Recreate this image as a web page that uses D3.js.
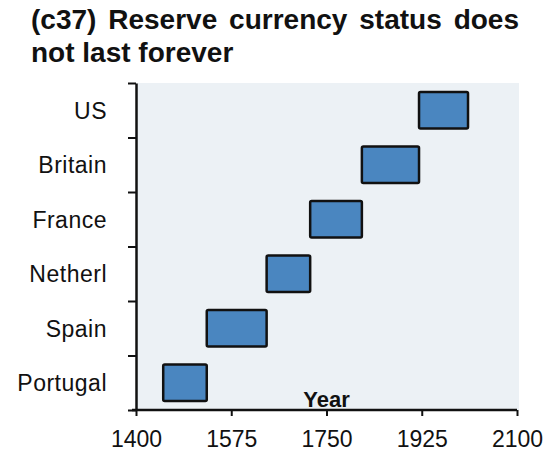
<!DOCTYPE html>
<html>
<head>
<meta charset="utf-8">
<script src="https://cdn.jsdelivr.net/npm/d3@7"></script>
<style>
  body { margin: 0; background: #fff; }
  text { font-family: "Liberation Sans", Arial, sans-serif; fill: #111; }
</style>
</head>
<body>
<div id="chart"></div>
<script>
// reserve currency periods (bottom to top)
var countries = ['Portugal', 'Spain', 'Netherl', 'France', 'Britain', 'US'];
var startYears = [1450, 1530, 1640, 1720, 1815, 1920];
var endYears = [1530, 1640, 1720, 1815, 1920, 2010];
var yearTicks = [1400, 1575, 1750, 1925, 2100];

var W = 548, H = 453;
var mLeft = 136, mRight = 517, mTop = 83, mBottom = 410;

var svg = d3.select('#chart').append('svg')
    .attr('width', W)
    .attr('height', H);

// plot background
svg.append('rect')
    .attr('x', mLeft)
    .attr('y', mTop)
    .attr('width', 519 - mLeft)
    .attr('height', mBottom - mTop)
    .attr('fill', '#ecf1f5');

var x = d3.scaleLinear().domain([1400, 2100]).range([mLeft, mRight]);
var y = d3.scaleLinear().domain([0, countries.length]).range([mBottom, mTop]);

/* --------- BARS ---------*/
var bars = countries.map(function (c, i) {
    return { name: c, idx: i, start: startYears[i], end: endYears[i] };
});

svg.selectAll('rect.bar')
    .data(bars)
    .enter()
    .append('rect')
    .attr('class', 'bar')
    .attr('x', function (d) { return x(d.start); })
    .attr('width', function (d) { return x(d.end) - x(d.start); })
    .attr('y', function (d) { return y(d.idx + 0.835); })
    .attr('height', function (d) { return y(d.idx + 0.165) - y(d.idx + 0.835); })
    .attr('rx', 1.5)
    .attr('fill', '#4a86c0')
    .attr('stroke', '#111')
    .attr('stroke-width', 2.5);

/* --------- AXES ---------*/
var yAxis = d3.axisLeft(y)
    .tickValues(d3.range(0, countries.length + 1))
    .tickFormat('')
    .tickSize(8)
    .tickSizeOuter(0);

var gy = svg.append('g')
    .attr('transform', 'translate(' + mLeft + ',0)')
    .call(yAxis);

var xAxis = d3.axisBottom(x)
    .tickValues(yearTicks)
    .tickFormat(d3.format('d'))
    .tickSize(6)
    .tickSizeOuter(0)
    .tickPadding(15);

var gx = svg.append('g')
    .attr('transform', 'translate(0,' + mBottom + ')')
    .call(xAxis);

[gx, gy].forEach(function (g) {
    g.selectAll('path.domain').attr('stroke', '#111').attr('stroke-width', 2.5);
    g.selectAll('.tick line').attr('stroke', '#111').attr('stroke-width', 2);
});
gx.select('path.domain').attr('d', 'M' + (mLeft - 4) + ',0H' + mRight);
gx.selectAll('.tick text')
    .attr('font-size', '23px')
    .attr('font-family', '"Liberation Sans", Arial, sans-serif')
    .attr('fill', '#111');

// category labels sit between the ticks
svg.selectAll('text.cat')
    .data(countries)
    .enter()
    .append('text')
    .attr('class', 'cat')
    .attr('x', 107)
    .attr('y', function (d, i) { return y(i + 0.5); })
    .attr('dy', '0.36em')
    .attr('text-anchor', 'end')
    .attr('font-size', '23px')
    .attr('letter-spacing', '0.5px')
    .text(function (d) { return d; });

// axis title inside the plot
svg.append('text')
    .attr('x', (mLeft + mRight) / 2)
    .attr('y', mBottom - 3)
    .attr('text-anchor', 'middle')
    .attr('font-size', '22px')
    .attr('font-weight', 'bold')
    .text('Year');

/* --------- TITLE ---------*/
var t1 = svg.append('text')
    .attr('x', 31)
    .attr('y', 28.5)
    .attr('font-size', '28px')
    .attr('font-weight', 'bold')
    .text('(c37) Reserve currency status does');
// stretch the word gaps so the first line runs to the right edge
var len = t1.node().getComputedTextLength();
t1.attr('word-spacing', ((519 - 31) - len) / 4);

svg.append('text')
    .attr('x', 31)
    .attr('y', 62)
    .attr('font-size', '28px')
    .attr('font-weight', 'bold')
    .text('not last forever');
</script>
</body>
</html>
